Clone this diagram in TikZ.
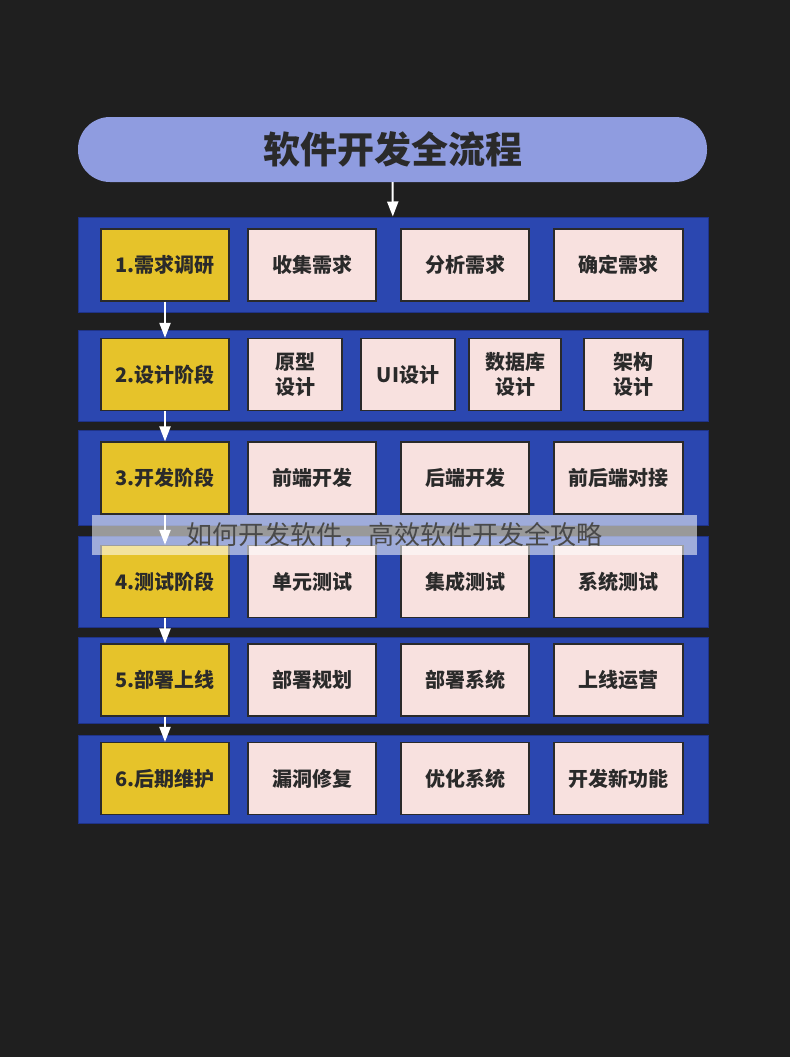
\documentclass[tikz,border=0pt]{standalone}
\usepackage{fontspec}
\setmainfont{Noto Sans CJK SC}
\usetikzlibrary{arrows.meta}

\definecolor{bgdark}{HTML}{1F1F1F}
\definecolor{pill}{HTML}{8F9CE0}
\definecolor{bandblue}{HTML}{2B47B0}
\definecolor{bandedge}{HTML}{1F3388}
\definecolor{phaseyel}{HTML}{E6C32A}
\definecolor{taskpink}{HTML}{F8E1DF}
\definecolor{ink}{HTML}{2A2A2A}

\begin{document}
\begin{tikzpicture}
  [x=1pt,y=-1pt,
   band/.style={fill=bandblue,draw=bandedge,line width=1pt,minimum width=630pt,inner sep=0pt},
   phase/.style={fill=phaseyel,draw=ink,line width=1.2pt,minimum width=128pt,minimum height=72pt,
     inner sep=0pt,text=ink,font=\bfseries\fontsize{20}{25}\selectfont},
   task/.style={fill=taskpink,draw=ink,line width=1.2pt,minimum height=72pt,inner sep=0pt,
     align=center,text=ink,font=\bfseries\fontsize{20}{25}\selectfont},
   flow/.style={draw=white,line width=2pt,-{Triangle[width=11pt,length=15pt]}},
   wmark/.style={fill=white,fill opacity=0.55,text opacity=1,minimum width=605pt,minimum height=40pt,
     inner sep=0pt,text=ink!85,font=\fontsize{26}{30}\selectfont}]
  \fill[bgdark] (0,0) rectangle (790,1057);

  \node[fill=pill,rounded corners=32pt,minimum width=629pt,minimum height=65pt,inner sep=0pt,
    text=ink,font=\bfseries\fontsize{37}{40}\selectfont] (top) at (392.5,149.5) {软件开发全流程};

  % blue bands, one per phase
  \foreach \i/\y/\h in {1/264.5/95,2/375.5/91,3/477.5/95,4/581.5/91,5/680/86,6/779/88}
    \node[band,minimum height=\h pt] (b\i) at (393,\y) {};

  % phases
  \node[phase] (p1) at (165,265) {1.需求调研};
  \node[phase] (p2) at (165,374.5) {2.设计阶段};
  \node[phase] (p3) at (165,478) {3.开发阶段};
  \node[phase] (p4) at (165,581.5) {4.测试阶段};
  \node[phase] (p5) at (165,680) {5.部署上线};
  \node[phase] (p6) at (165,778.5) {6.后期维护};

  % tasks, three per row
  \foreach \i/\y/\a/\b/\c in {1/265/收集需求/分析需求/确定需求,
                              3/478/前端开发/后端开发/前后端对接,
                              4/581.5/单元测试/集成测试/系统测试,
                              5/680/部署规划/部署系统/上线运营,
                              6/778.5/漏洞修复/优化系统/开发新功能}
  {
    \node[task,minimum width=128pt] (t\i a) at (312,\y) {\a};
    \node[task,minimum width=128pt] (t\i b) at (465,\y) {\b};
    \node[task,minimum width=129pt] (t\i c) at (618.5,\y) {\c};
  }

  % design row has four
  \node[task,minimum width=94pt] (t2a) at (295,374.5) {原型\\设计};
  \node[task,minimum width=94pt] (t2b) at (408,374.5) {UI设计};
  \node[task,minimum width=92pt] (t2c) at (515,374.5) {数据库\\设计};
  \node[task,minimum width=99pt] (t2d) at (633.5,374.5) {架构\\设计};

  \draw[flow] (top) -- (b1);
  \foreach \from/\to in {p1/p2,p2/p3,p3/p4,p4/p5,p5/p6}
    \draw[flow] (\from) -- (\to);

  \node[wmark] (wm) at (394.5,535) {如何开发软件，高效软件开发全攻略};
\end{tikzpicture}
\end{document}
